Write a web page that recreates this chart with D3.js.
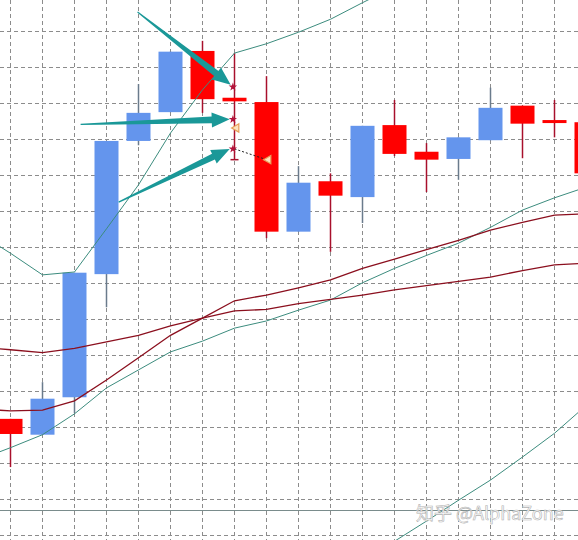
<!DOCTYPE html>
<html>
<head>
<meta charset="utf-8">
<script src="https://cdn.jsdelivr.net/npm/d3@7"></script>
<style>
	body { margin: 0; background: #ffffff; }
	svg { display: block; }
</style>
</head>
<body>
<svg id="chart" width="578" height="540"></svg>
<script>
// bars, left to right (last one is cut by the right edge)
const opens  = [1916.2, 1914.0, 1919.2, 1936.3, 1954.8, 1958.8, 1967.3, 1960.8, 1960.2, 1942.2, 1949.2, 1947.0, 1957.0, 1953.3, 1952.3, 1954.9, 1959.7, 1957.7, 1957.4];
const highs  = [1916.2, 1921.3, 1936.5, 1954.8, 1962.7, 1967.2, 1968.7, 1967.0, 1963.8, 1951.3, 1950.3, 1956.9, 1960.5, 1954.5, 1955.3, 1962.2, 1959.7, 1960.5, 1957.4];
const lows   = [1909.5, 1914.0, 1917.0, 1931.7, 1954.2, 1958.8, 1958.7, 1952.2, 1941.3, 1942.2, 1939.4, 1943.4, 1952.7, 1947.7, 1949.4, 1954.9, 1952.4, 1955.3, 1949.4];
const closes = [1914.1, 1919.0, 1936.5, 1954.8, 1958.7, 1967.2, 1960.6, 1960.3, 1942.2, 1949.0, 1947.2, 1956.9, 1953.0, 1952.2, 1955.3, 1959.4, 1957.2, 1957.3, 1950.3];

// indicator lines, first value belongs to the bar just left of the picture (index -1)
const lineStart = -1;
const upperBand = [1942.0, 1939.2, 1936.2, 1936.6, 1942.6, 1948.7, 1955.9, 1961.9, 1967.0, 1968.3, 1969.9, 1971.7, 1974.0, 1976.2, null, null, null, null, null, null];
const midBand   = [1910.5, 1912.2, 1914.0, 1916.9, 1920.5, 1923.0, 1925.5, 1927.0, 1928.8, 1929.8, 1931.3, 1932.7, 1935.1, 1937.1, 1938.9, 1940.6, 1942.8, 1945.2, 1946.9, 1948.4];
const lowerBand = [null, null, null, null, null, null, null, null, null, null, null, null, 1896.3, 1899.2, 1902.0, 1904.9, 1907.7, 1910.9, 1914.2, 1918.1];
const maFast    = [1917.6, 1917.3, 1917.4, 1918.7, 1921.6, 1924.7, 1927.8, 1930.2, 1932.6, 1933.4, 1934.4, 1935.5, 1937.1, 1938.4, 1939.7, 1941.0, 1942.4, 1943.5, 1944.5, 1944.7];
const maSlow    = [1926.2, 1925.8, 1925.4, 1926.0, 1926.9, 1927.8, 1929.1, 1930.2, 1931.2, 1931.4, 1932.2, 1932.8, 1933.4, 1934.1, 1934.7, 1935.3, 1935.9, 1936.8, 1937.6, 1937.8];

// horizontal price level near the bottom
const levelPrice = 1903.5;

// annotations: arrows [tailIndex, tailPrice, tipIndex, tipPrice]
const arrows = [
	[3.97, 1972.7, 6.88, 1962.6],
	[2.19, 1957.1, 6.85, 1957.8],
	[3.38, 1946.3, 6.85, 1953.7]
];
const starMarks = [[6.95, 1962.3], [6.95, 1957.8], [6.95, 1953.7]];
const triMarks = [[7.06, 1956.6], [8.06, 1952.2]];
const dotLink = [[7, 1953.7], [8, 1952.2]];
const lowTickBar = 7;

const watermark = "知乎 @AlphaZone";

var svg = d3.select("#chart");
var width = +svg.attr("width");
var height = +svg.attr("height");

var x = d3.scaleLinear().domain([0, 1]).range([10.5, 42.5]);
var y = d3.scaleLinear().domain([1900, 1970]).range([535.5, 31.5]);

const bullColor = "#6495ed";
const bearColor = "#ff0000";

//grid
var grid = svg.append("g").attr("class", "grid")
	.attr("stroke", "#8c8c8c")
	.attr("stroke-width", 1)
	.attr("stroke-dasharray", "4,3");

grid.selectAll("line.h")
	.data(d3.range(1900, 1975, 5))
	.enter()
	.append("line")
	.attr("class", "h")
	.attr("x1", 0).attr("x2", width)
	.attr("y1", (d) => y(d)).attr("y2", (d) => y(d));

grid.selectAll("line.v")
	.data(d3.range(0, 18))
	.enter()
	.append("line")
	.attr("class", "v")
	.attr("x1", (d) => x(d)).attr("x2", (d) => x(d))
	.attr("y1", 0).attr("y2", height);

//price level
svg.append("line")
	.attr("x1", 0).attr("x2", width)
	.attr("y1", Math.round(y(levelPrice)) + 0.5)
	.attr("y2", Math.round(y(levelPrice)) + 0.5)
	.attr("stroke", "#7a8c8c")
	.attr("stroke-width", 1);

//candles
var bars = opens.map((o, i) => ({ i: i, o: o, h: highs[i], l: lows[i], c: closes[i] }));

var candle = svg.append("g").attr("class", "candles")
	.selectAll("g")
	.data(bars)
	.enter()
	.append("g");

candle.append("line")
	.attr("x1", (d) => x(d.i)).attr("x2", (d) => x(d.i))
	.attr("y1", (d) => y(d.h)).attr("y2", (d) => y(d.l))
	.attr("stroke", (d) => (d.c >= d.o ? "#6a7b8c" : "#a8102c"))
	.attr("stroke-width", 1.5);

candle.append("rect")
	.attr("x", (d) => x(d.i) - 12)
	.attr("width", 24)
	.attr("y", (d) => y(Math.max(d.o, d.c)))
	.attr("height", (d) => Math.max(3, Math.abs(y(d.o) - y(d.c))))
	.attr("fill", (d) => (d.c >= d.o ? bullColor : bearColor));

// little end tick on the doji low
svg.append("line")
	.attr("x1", x(lowTickBar) - 4).attr("x2", x(lowTickBar) + 4)
	.attr("y1", y(lows[lowTickBar])).attr("y2", y(lows[lowTickBar]))
	.attr("stroke", "#a8102c")
	.attr("stroke-width", 1.5);

//indicator lines
function drawLine(values, color, w) {
	var pts = values.map((v, k) => ({ i: k + lineStart, v: v }));
	var line = d3.line()
		.defined((d) => d.v !== null)
		.x((d) => x(d.i))
		.y((d) => y(d.v));
	svg.append("path")
		.datum(pts)
		.attr("d", line)
		.attr("fill", "none")
		.attr("stroke", color)
		.attr("stroke-width", w);
}

drawLine(upperBand, "#3c8c7e", 1);
drawLine(midBand, "#3c8c7e", 1);
drawLine(lowerBand, "#3c8c7e", 1);
drawLine(maSlow, "#8b0f1e", 1.3);
drawLine(maFast, "#8b0f1e", 1.3);

//dotted link between signals
svg.append("line")
	.attr("x1", x(dotLink[0][0])).attr("y1", y(dotLink[0][1]))
	.attr("x2", x(dotLink[1][0])).attr("y2", y(dotLink[1][1]))
	.attr("stroke", "#222")
	.attr("stroke-width", 1)
	.attr("stroke-dasharray", "2,2");

//orange triangles pointing left
svg.selectAll("path.tri")
	.data(triMarks)
	.enter()
	.append("path")
	.attr("class", "tri")
	.attr("d", d3.symbol(d3.symbolTriangle, 30))
	.attr("transform", (d) => "translate(" + x(d[0]) + "," + y(d[1]) + ") rotate(-90)")
	.attr("fill", "#fde3c0")
	.attr("stroke", "#e8a05a")
	.attr("stroke-width", 1.2);

//tapered arrows
function arrowPath(a) {
	var tx = x(a[0]), ty = y(a[1]), px = x(a[2]), py = y(a[3]);
	var len = Math.hypot(px - tx, py - ty);
	var ux = (px - tx) / len, uy = (py - ty) / len;
	var nx = -uy, ny = ux;
	var headLen = 18, headHalf = 7.5, shaftHalf = 3.3, tailHalf = 0.6;
	var bx = px - ux * headLen, by = py - uy * headLen;
	var pts = [
		[tx + nx * tailHalf, ty + ny * tailHalf],
		[bx + nx * shaftHalf, by + ny * shaftHalf],
		[bx + nx * headHalf, by + ny * headHalf],
		[px, py],
		[bx - nx * headHalf, by - ny * headHalf],
		[bx - nx * shaftHalf, by - ny * shaftHalf],
		[tx - nx * tailHalf, ty - ny * tailHalf]
	];
	return "M" + pts.map((p) => p[0].toFixed(1) + "," + p[1].toFixed(1)).join("L") + "Z";
}

svg.selectAll("path.arrow")
	.data(arrows)
	.enter()
	.append("path")
	.attr("class", "arrow")
	.attr("d", arrowPath)
	.attr("fill", "#1a9898");

//red star marks at arrow tips
svg.selectAll("path.star")
	.data(starMarks)
	.enter()
	.append("path")
	.attr("class", "star")
	.attr("d", d3.symbol(d3.symbolStar, 22))
	.attr("transform", (d) => "translate(" + x(d[0]) + "," + y(d[1]) + ")")
	.attr("fill", "#b3123a");

//watermark
svg.append("text")
	.attr("x", 416)
	.attr("y", 520)
	.attr("font-family", "'Noto Sans CJK SC', 'Liberation Sans', sans-serif")
	.attr("font-size", 18)
	.attr("fill", "#ffffff")
	.attr("stroke", "#b2b2b2")
	.attr("stroke-width", 0.6)
	.text(watermark);
</script>
</body>
</html>
